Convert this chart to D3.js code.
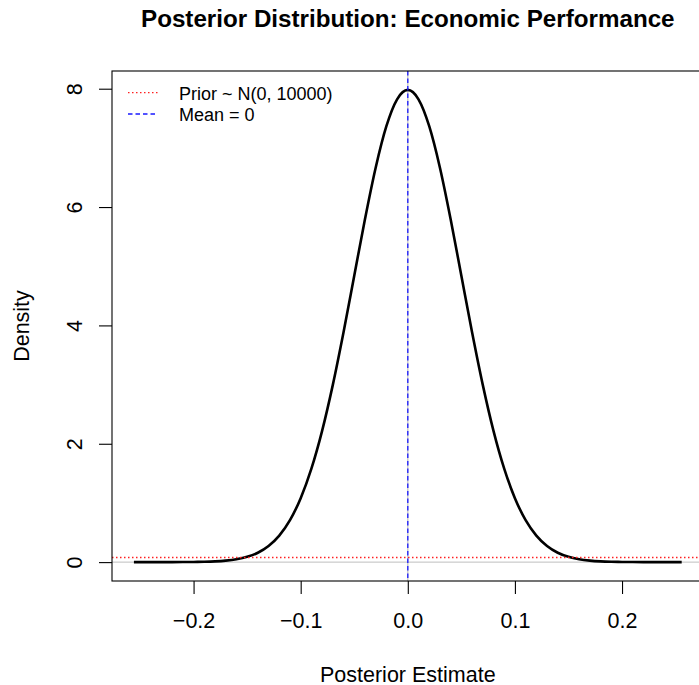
<!DOCTYPE html>
<html>
<head>
<meta charset="utf-8">
<script src="https://cdn.jsdelivr.net/npm/d3@7"></script>
<style>
  html, body { margin: 0; padding: 0; background: #fff; }
  svg { display: block; }
  text { font-family: "Liberation Sans", Arial, Helvetica, sans-serif; fill: #000; }
</style>
</head>
<body>
<svg id="chart" width="699" height="685"></svg>
<script>
// ---- data ----
const estimateX = [-0.2557, -0.25, -0.24, -0.23, -0.22, -0.21, -0.20, -0.19, -0.18, -0.17, -0.16, -0.15, -0.14, -0.13,
  -0.12, -0.11, -0.10, -0.09, -0.08, -0.07, -0.06, -0.05, -0.04, -0.03, -0.02, -0.01, 0.00,
  0.01, 0.02, 0.03, 0.04, 0.05, 0.06, 0.07, 0.08, 0.09, 0.10, 0.11, 0.12, 0.13, 0.14, 0.15,
  0.16, 0.17, 0.18, 0.19, 0.20, 0.21, 0.22, 0.23, 0.24, 0.25, 0.2557];
const densityY = [0.0000, 0.0000, 0.0000, 0.0001, 0.0005, 0.0012, 0.0027, 0.0058, 0.0122, 0.0247, 0.0477, 0.0886, 0.158, 0.272,
  0.448, 0.709, 1.080, 1.579, 2.218, 2.995, 3.884, 4.839, 5.794, 6.665, 7.366, 7.821, 7.980,
  7.821, 7.366, 6.665, 5.794, 4.839, 3.884, 2.995, 2.218, 1.579, 1.080, 0.709, 0.448, 0.272, 0.158, 0.0886,
  0.0477, 0.0247, 0.0122, 0.0058, 0.0027, 0.0012, 0.0005, 0.0001, 0.0000, 0.0000, 0.0000];
const priorDensity = 0.078;
const posteriorMean = 0;
const xTicks = [-0.2, -0.1, 0.0, 0.1, 0.2];
const yTicks = [0, 2, 4, 6, 8];
const legendLabels = ["Prior ~ N(0, 10000)", "Mean = 0"];
const titleText = "Posterior Distribution: Economic Performance";
const xLabel = "Posterior Estimate";
const yLabel = "Density";

// ---- layout ----
const plotL = 112, plotR = 703.6, plotT = 71, plotB = 581;
const svg = d3.select("#chart");

const xPad = (d3.max(estimateX) - d3.min(estimateX)) * 0.04;
const yMax = d3.max(densityY), yMin = 0;
const yPad = (yMax - yMin) * 0.04;
const x = d3.scaleLinear().domain([d3.min(estimateX) - xPad, d3.max(estimateX) + xPad]).range([plotL, plotR]);
const y = d3.scaleLinear().domain([yMin - yPad, yMax + yPad]).range([plotB, plotT]);

svg.append("clipPath").attr("id", "plotclip")
  .append("rect").attr("x", plotL).attr("y", plotT).attr("width", plotR - plotL).attr("height", plotB - plotT);

const g = svg.append("g").attr("clip-path", "url(#plotclip)");

// reference lines
g.append("line").attr("x1", plotL).attr("x2", plotR).attr("y1", y(0)).attr("y2", y(0))
  .attr("stroke", "#bebebe").attr("stroke-width", 1);
g.append("line").attr("x1", x(0)).attr("x2", x(0)).attr("y1", plotT).attr("y2", plotB)
  .attr("stroke", "#bebebe").attr("stroke-width", 1.2);

// density curve
g.append("path")
  .datum(estimateX.map((v, i) => [v, densityY[i]]))
  .attr("fill", "none").attr("stroke", "#000").attr("stroke-width", 2.6)
  .attr("stroke-linejoin", "round").attr("stroke-linecap", "butt")
  .attr("d", d3.line().curve(d3.curveMonotoneX).x(d => x(d[0])).y(d => y(d[1])));

// prior line
g.append("line").attr("x1", plotL).attr("x2", plotR).attr("y1", y(priorDensity)).attr("y2", y(priorDensity))
  .attr("stroke", "#ff2020").attr("stroke-width", 1.3).attr("stroke-dasharray", "1.5,2.5");

// mean line
g.append("line").attr("x1", x(posteriorMean)).attr("x2", x(posteriorMean)).attr("y1", plotT).attr("y2", plotB)
  .attr("stroke", "#1a1aff").attr("stroke-width", 1.3).attr("stroke-dasharray", "4.5,3");

// box
svg.append("rect").attr("x", plotL).attr("y", plotT).attr("width", plotR - plotL).attr("height", plotB - plotT)
  .attr("fill", "none").attr("stroke", "#000").attr("stroke-width", 1.1);

// x axis
const xAxis = svg.append("g").attr("transform", `translate(0,${plotB})`)
  .call(d3.axisBottom(x).tickValues(xTicks).tickSize(13).tickPadding(19).tickFormat(d3.format(".1f")));
xAxis.select(".domain").remove();
xAxis.selectAll(".tick line").attr("stroke", "#000").attr("stroke-width", 1.1);
xAxis.selectAll(".tick text").attr("font-size", "21.5px").attr("font-family", "Liberation Sans, Arial, sans-serif");

// y axis
const yAxis = svg.append("g").attr("transform", `translate(${plotL},0)`)
  .call(d3.axisLeft(y).tickValues(yTicks).tickSize(13).tickFormat(d3.format("d")));
yAxis.select(".domain").remove();
yAxis.selectAll(".tick line").attr("stroke", "#000").attr("stroke-width", 1.1);
yAxis.selectAll(".tick text")
  .attr("x", null).attr("y", null).attr("dy", null)
  .attr("text-anchor", "middle")
  .attr("transform", "translate(-30,0) rotate(-90)")
  .attr("font-size", "21.5px").attr("font-family", "Liberation Sans, Arial, sans-serif");

// titles
const midX = (plotL + plotR) / 2;
svg.append("text").attr("x", midX).attr("y", 26.5).attr("text-anchor", "middle")
  .attr("font-size", "24.2px").attr("font-weight", "bold").text(titleText);
svg.append("text").attr("x", midX).attr("y", 681.5).attr("text-anchor", "middle")
  .attr("font-size", "21.5px").text(xLabel);
svg.append("text").attr("transform", `translate(29,${(plotT + plotB) / 2}) rotate(-90)`)
  .attr("text-anchor", "middle").attr("font-size", "21.5px").text(yLabel);

// legend
const legendY = [92.7, 114];
const legendStyles = [
  { color: "#ff2020", dash: "1.5,2.5" },
  { color: "#1a1aff", dash: "4.5,3" }
];
legendLabels.forEach((lab, i) => {
  svg.append("line").attr("x1", 128).attr("x2", 158).attr("y1", legendY[i]).attr("y2", legendY[i])
    .attr("stroke", legendStyles[i].color).attr("stroke-width", 1.3).attr("stroke-dasharray", legendStyles[i].dash);
  svg.append("text").attr("x", 179).attr("y", legendY[i] + 6.8).attr("font-size", "18px").text(lab);
});
</script>
</body>
</html>
